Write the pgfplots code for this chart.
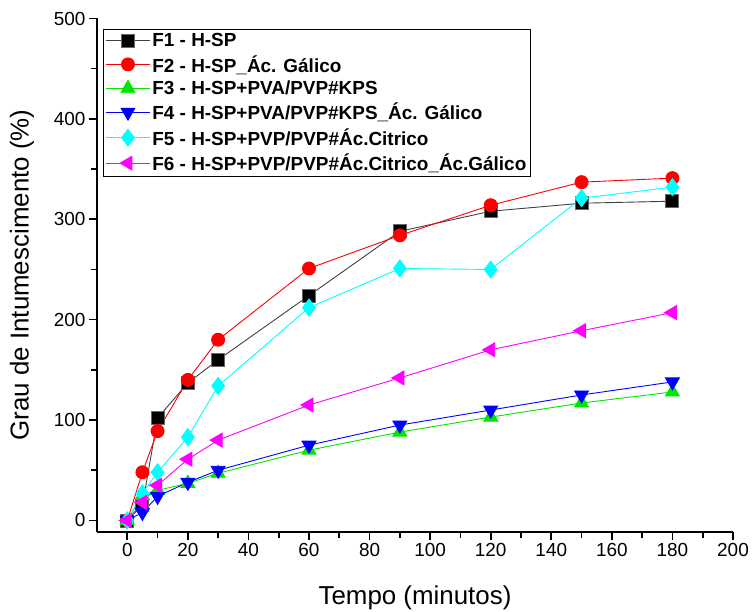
\documentclass[border=0pt]{standalone}
\usepackage{pgfplots}
\pgfplotsset{compat=1.18}
\usepackage{fontspec}
\setmainfont{Liberation Sans}

\definecolor{cF1}{RGB}{0,0,0}
\definecolor{cF2}{RGB}{255,0,0}
\definecolor{cF3}{RGB}{0,230,0}
\definecolor{cF4}{RGB}{0,0,255}
\definecolor{cF5}{RGB}{0,255,255}
\definecolor{cF6}{RGB}{255,0,255}

\begin{document}
\begin{tikzpicture}[x=1bp,y=1bp]
\begin{axis}[
  at={(0,0)}, anchor=south west,
  scale only axis, width=636bp, height=513bp,
  xmin=-10, xmax=200, ymin=-11, ymax=500,
  axis x line*=bottom, axis y line*=left,
  axis line style={line width=2bp, black},
  xtick={0,20,...,200}, ytick={0,100,...,500},
  minor x tick num=1, minor y tick num=1,
  tick align=outside,
  major tick length=8bp, minor tick length=6bp,
  every tick/.style={black, line width=1.6bp},
  /pgf/number format/assume math mode=true,
  ticklabel style={font=\fontsize{19}{22}\selectfont},
  xlabel={Tempo (minutos)},
  ylabel={Grau de Intumescimento (\%)},
  label style={font=\fontsize{26}{30}\selectfont},
  xlabel style={at={(axis description cs:0.5,-0.129)}, anchor=center},
  ylabel style={at={(axis description cs:-0.118,0.5)}, anchor=center},
  legend style={at={(0.0094,0.98)}, anchor=north west, draw=black,
    line width=1.2bp, font=\bfseries\fontsize{19}{21}\selectfont,
    inner sep=2bp, row sep=3.2bp, cells={anchor=west}},
  legend image code/.code={%
    \draw[mark repeat=2,mark phase=2,line width=0.8bp]
      plot coordinates {(0bp,0bp) (22bp,0bp) (44bp,0bp)};},
  every axis plot/.append style={line width=0.9bp},
]
% F1 - H-SP
\addplot[color=cF1!75, mark=square*, mark size=6.5bp,
  mark options={solid, fill=cF1, draw=cF1!60}]
  coordinates {(0,0) (5,15) (10,102) (20,137) (30,160) (60,224)
               (90,288) (120,308) (150,316) (180,318)};
\addlegendentry{F1 - H-SP}
% F2 - H-SP_Ac. Galico
\addplot[color=cF2, mark=*, mark size=6.5bp,
  mark options={solid, fill=cF2, draw=cF2}]
  coordinates {(0,0) (5,48) (10,89) (20,140) (30,180) (60,251)
               (90,284) (120,314) (150,337) (180,341)};
\addlegendentry{F2 - H-SP\_Ác. Gálico}
% F3 - H-SP+PVA/PVP#KPS
\addplot[color=cF3, mark=triangle*, mark size=8bp,
  mark options={solid, fill=cF3, draw=cF3}]
  coordinates {(0,0) (5,25) (10,30) (20,37) (30,47) (60,70)
               (90,88) (120,103) (150,117) (180,128)};
\addlegendentry{F3 - H-SP+PVA/PVP\#KPS}
% F4 - H-SP+PVA/PVP#KPS_Ac. Galico
\addplot[color=cF4, mark=triangle*, mark size=8bp,
  mark options={solid, rotate=180, fill=cF4, draw=cF4}]
  coordinates {(0,0) (5,8) (10,24) (20,38) (30,50) (60,75)
               (90,95) (120,110) (150,125) (180,138)};
\addlegendentry{F4 - H-SP+PVA/PVP\#KPS\_Ác. Gálico}
% F5 - H-SP+PVP/PVP#Ac.Citrico
\addplot[color=cF5, mark=diamond*, mark size=8.5bp,
  mark options={solid, fill=cF5, draw=cF5}]
  coordinates {(0,0) (5,27) (10,48) (20,83) (30,134) (60,212)
               (90,251) (120,250) (150,321) (180,332)};
\addlegendentry{F5 - H-SP+PVP/PVP\#Ác.Citrico}
% F6 - H-SP+PVP/PVP#Ac.Citrico_Ac.Galico
\addplot[color=cF6, mark=triangle*, mark size=8bp,
  mark options={solid, rotate=90, fill=cF6, draw=cF6}]
  coordinates {(0,0) (5,18) (10,35) (20,61) (30,80) (60,115)
               (90,142) (120,170) (150,189) (180,207)};
\addlegendentry{F6 - H-SP+PVP/PVP\#Ác.Citrico\_Ác.Gálico}
\end{axis}
\pgfresetboundingbox
\path (-97bp,-80.5bp) rectangle (656bp,531.5bp);
\end{tikzpicture}
\end{document}
